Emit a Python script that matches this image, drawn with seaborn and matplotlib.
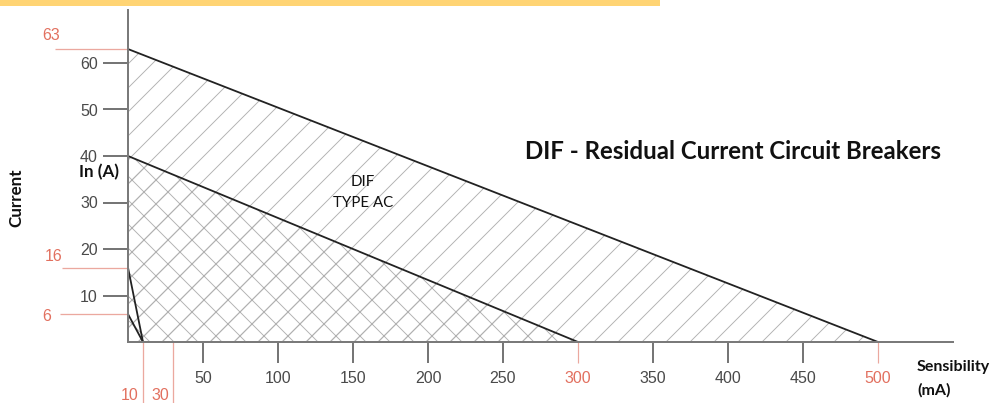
import matplotlib
matplotlib.use('Agg')
import matplotlib.pyplot as plt
from matplotlib.patches import Rectangle
import seaborn as sns
import numpy as np

# Breaker families: rated current In (A) at zero leakage and the sensibility (mA) limit
rated_current = [63, 40, 16, 6]
sensibility = [500, 300, 10, 10]
hatches = ['/', 'x', None, None]

y_ticks = [10, 20, 30, 40, 50, 60]
x_ticks = [50, 100, 150, 200, 250, 350, 400, 450]
red_x_ticks = [300, 500]
red_y_marks = [63, 16, 6]
red_x_marks = [10, 30]

sns.set_theme(style="white")
plt.rcParams['font.family'] = ['Liberation Sans', 'DejaVu Sans']
plt.rcParams['hatch.color'] = '#b0b0b0'
plt.rcParams['hatch.linewidth'] = 0.9

W, H, DPI = 997, 403, 72
fig = plt.figure(figsize=(W / DPI, H / DPI), dpi=DPI)
ax = fig.add_axes([0, 0, 1, 1])
ax.set_facecolor('none')

# pixel mapping: x=0 at px 128, 1.5 px per mA; y=0 at px 342, 4.65 px per A
x0, sx = 128, 1.5
y0, sy = 342, 4.65
ax.set_xlim(-x0 / sx, (W - x0) / sx)
ax.set_ylim((y0 - H) / sy, y0 / sy)

dark = '#222222'
red_line = '#eba89f'
red_text = '#e2705f'
grey_text = '#4a4a4a'

# hatched zones and boundary lines
for cur, sens, h in zip(rated_current, sensibility, hatches):
    xs = np.array([0, sens])
    ys = np.array([cur, 0])
    if h:
        ax.fill_between(xs, ys, 0, facecolor='none', edgecolor='#b0b0b0',
                        hatch=h, linewidth=0, zorder=1)
    sns.lineplot(x=xs, y=ys, ax=ax, color=dark, linewidth=1.8, zorder=3)

# axes spines
for s in ['top', 'right']:
    ax.spines[s].set_visible(False)
ax.spines['left'].set_position(('data', 0))
ax.spines['bottom'].set_position(('data', 0))
ax.spines['left'].set_bounds(0, (y0 - 10) / sy)
ax.spines['bottom'].set_bounds(0, (953 - x0) / sx)
for s in ['left', 'bottom']:
    ax.spines[s].set_color('#7a7a7a')
    ax.spines[s].set_linewidth(2)
    ax.spines[s].set_zorder(4)

ax.set_yticks(y_ticks)
ax.set_xticks(x_ticks)
ax.set_xticks(red_x_ticks, labels=[str(v) for v in red_x_ticks], minor=True)
ax.tick_params(axis='y', which='major', direction='out', length=25, width=1.6,
               color='#555555', labelcolor=grey_text, labelsize=16, pad=5, left=True)
ax.tick_params(axis='x', which='major', direction='out', length=21, width=1.6,
               color='#555555', labelcolor=grey_text, labelsize=16, pad=8, bottom=True)
ax.tick_params(axis='x', which='minor', direction='out', length=21, width=1.2,
               color=red_line, labelcolor=red_text, labelsize=16, pad=8, bottom=True)
ax.grid(False)

# red reference lines
y_starts = [-48.7, -44, -45]
ax.hlines(red_y_marks, y_starts, 0, color=red_line, linewidth=1.3, zorder=2)
red_y_offsets = [(-4, 6), (-8, 4), (-14, -10)]
for v, xs, off in zip(red_y_marks, y_starts, red_y_offsets):
    ax.annotate(str(v), (xs, v), xytext=off, textcoords='offset points',
                ha='center', va='bottom', color=red_text, fontsize=16)
ax.vlines(red_x_marks, ax.get_ylim()[0], 0, color=red_line, linewidth=1.3, zorder=2)
for v in red_x_marks:
    ax.annotate(str(v), (v, ax.get_ylim()[0]), xytext=(-4, 0), textcoords='offset points',
                ha='right', va='bottom', color=red_text, fontsize=16)

# text
bold = dict(fontweight='bold', family=['Lato', 'DejaVu Sans'], color='#111111')
fig.text(525 / W, 1 - 159 / H, 'DIF - Residual Current Circuit Breakers',
         fontsize=24, ha='left', va='baseline', **bold)
fig.text(79 / W, 1 - 177 / H, 'In (A)', fontsize=17, ha='left', va='baseline', **bold)
fig.text(917 / W, 1 - 371 / H, 'Sensibility', fontsize=16, ha='left', va='baseline', **bold)
fig.text(917 / W, 1 - 395 / H, '(mA)', fontsize=16, ha='left', va='baseline', **bold)
fig.text(16 / W, 1 - 198 / H, 'Current', fontsize=17, rotation=90,
         ha='center', va='center', **bold)
fig.text(363 / W, 1 - 182 / H, 'DIF', fontsize=15, ha='center', va='center',
         family=['Lato', 'DejaVu Sans'], color='#111111')
fig.text(363 / W, 1 - 203 / H, 'TYPE AC', fontsize=15, ha='center', va='center',
         family=['Lato', 'DejaVu Sans'], color='#111111')

# yellow header strip
fig.patches.append(Rectangle((0, 1 - 6 / H), 660 / W, 6 / H, transform=fig.transFigure,
                             facecolor='#ffd474', edgecolor='none'))

fig.savefig('out.png', dpi=DPI)
